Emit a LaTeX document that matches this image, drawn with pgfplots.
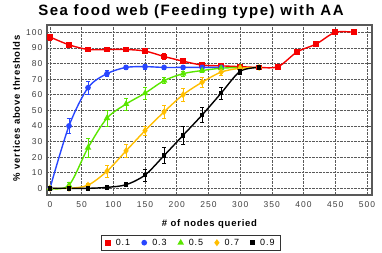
\documentclass[border=0pt]{standalone}
\usepackage{fontspec}
\setmainfont{Liberation Sans}
\newfontfamily\tickf[LetterSpace=12]{Liberation Sans}
\newfontfamily\labf[LetterSpace=8]{Liberation Sans Bold}
\newfontfamily\titf[LetterSpace=10]{Liberation Sans Bold}
\newfontfamily\legf[LetterSpace=10]{Liberation Sans}
\usepackage{pgfplots}
\pgfplotsset{compat=1.18}
\usepackage{pgfplotstable}
\definecolor{cred}{RGB}{245,0,0}
\definecolor{cblue}{RGB}{40,70,255}
\definecolor{cgreen}{RGB}{90,230,0}
\definecolor{cyel}{RGB}{255,190,0}
\definecolor{cgrid}{RGB}{90,90,90}
\pgfplotstableread{
x y e
0 97 2
30 92 1.5
60 89 1
90 89 0.8
120 89 0.8
150 88 1.5
180 84.5 2
210 81.5 1.5
240 79 1
270 78.5 0.8
300 78 0.5
330 77.5 0.5
360 78 0.5
390 87.5 1
420 92.5 1
450 100 0
480 100 0
}\tred
\pgfplotstableread{
x y e
0 0 0
30 40 5
60 64.5 4
90 73.5 2
120 77.5 1.5
150 78 1.5
180 77.5 1
210 77.5 1
240 77.5 0.5
270 77.5 0.5
}\tblue
\pgfplotstableread{
x y e
0 0 0
30 2 2
60 26 6
90 45 5
120 54 4
150 61 4
180 69 2
210 73.5 1.5
240 75.5 1
270 77 0.5
300 77.5 0.5
}\tgreen
\pgfplotstableread{
x y e
0 0 0
30 0 0.5
60 2 1
90 11 4
120 24 4
150 37 3
180 49 4
210 60 4
240 68 3
270 74.5 2
300 77 1
330 77.5 0.5
}\tyel
\pgfplotstableread{
x y e
0 0 0
30 0 0
60 0 0.5
90 0.6 0.5
120 2.3 1
150 8.5 4
180 21 5
210 34 6
240 47 5
270 61 4
300 75 2
330 77.5 0.5
}\tblack
\begin{document}
\begin{tikzpicture}
\begin{axis}[
  name=ax,
  scale only axis,
  width=325pt, height=170pt,
  xmin=-4.7, xmax=508, ymin=-4.3, ymax=104.7,
  xtick={0,50,...,500}, ytick={0,10,...,100},
  grid=major,
  major grid style={densely dotted, cgrid, line width=0.6pt},
  major tick length=0pt,
  axis line style={draw=black!65, line width=1.1pt},
  /pgf/number format/assume math mode=true,
  ticklabel style={font=\tickf\fontsize{8.5}{10}\selectfont, text=black!75},
  xticklabel style={yshift=-3pt},
  yticklabel style={xshift=-1pt},
  xlabel={\labf\fontsize{9.5}{11}\selectfont \# of nodes queried},
  ylabel={\labf\fontsize{9.5}{11}\selectfont \% vertices above thresholds},
  title={\titf\fontsize{15}{17}\selectfont Sea food web (Feeding type) with AA},
  title style={at={(0.443,1)}, anchor=base, yshift=3.5pt, inner sep=0pt},
  xlabel style={at={(axis description cs:0.5,0)}, anchor=base, yshift=-31pt, inner sep=0pt},
  ylabel style={at={(axis description cs:0,0.51)}, anchor=base, yshift=27pt, inner sep=0pt},
  legend columns=5,
  legend style={at={(0.443,-0.235)}, anchor=north, draw=black!80, line width=0.7pt,
    font=\legf\fontsize{9}{10}\selectfont,
    /tikz/every even column/.append style={column sep=10pt},
    /tikz/every odd column/.append style={column sep=4pt},
    inner sep=1.5pt, inner xsep=4pt},
  legend image code/.code={\draw[#1, only marks] plot coordinates {(0.1cm,0cm)};},
  every axis plot/.append style={line width=1.4pt,
    error bars/y dir=both, error bars/y explicit,
    error bars/error bar style={line width=0.6pt},
    error bars/error mark options={rotate=90, mark size=2pt, line width=0.6pt}},
]
\addplot[cred, smooth, tension=0.5, mark=square*, mark size=2.2pt] table[x=x,y=y,y error=e]{\tred};
\addplot[cblue, smooth, tension=0.5, mark=*, mark size=2.1pt] table[x=x,y=y,y error=e]{\tblue};
\addplot[cgreen, smooth, tension=0.5, mark=triangle*, mark size=2.4pt] table[x=x,y=y,y error=e]{\tgreen};
\addplot[cyel, smooth, tension=0.5, mark=diamond*, mark size=2.4pt] table[x=x,y=y,y error=e]{\tyel};
\addplot[black, smooth, tension=0.5, mark=square*, mark size=1.6pt] table[x=x,y=y,y error=e]{\tblack};
\legend{0.1,0.3,0.5,0.7,0.9}
\end{axis}
\pgfresetboundingbox
\useasboundingbox ([xshift=-47pt,yshift=-57pt]ax.south west) rectangle ([xshift=10pt,yshift=25pt]ax.north east);
\end{tikzpicture}
\end{document}
